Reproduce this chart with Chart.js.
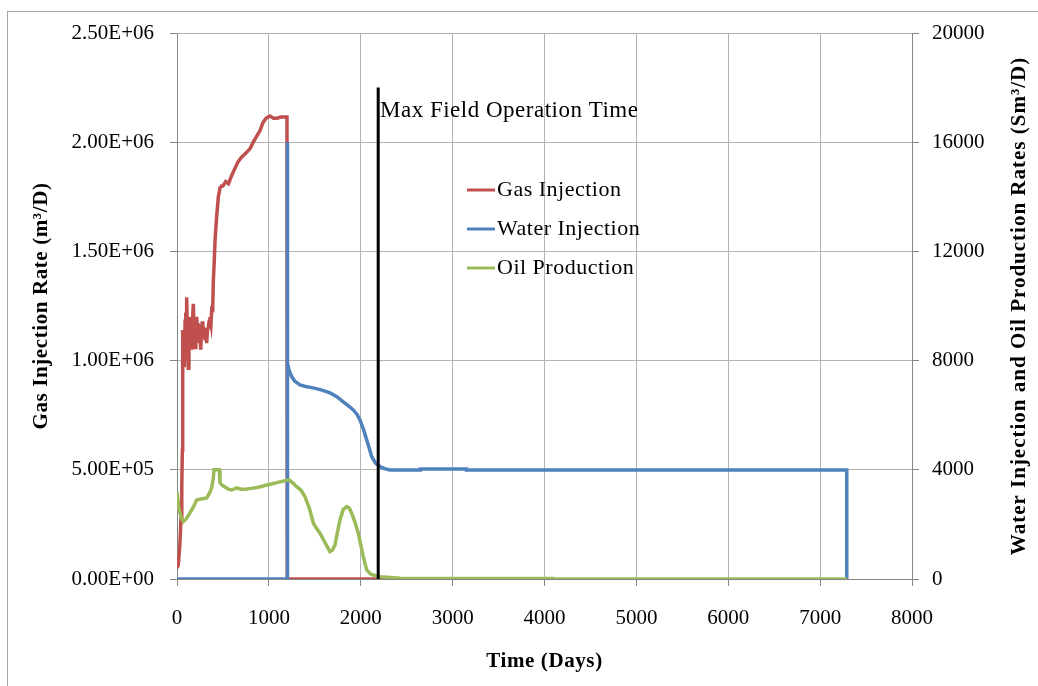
<!DOCTYPE html>
<html>
<head>
<meta charset="utf-8">
<title>Injection and Production Rates</title>
<script src="https://cdn.jsdelivr.net/npm/chart.js@4.4.0/dist/chart.umd.min.js"></script>
<style>
  html, body { margin: 0; padding: 0; background: #fff; }
</style>
</head>
<body>
<canvas id="ratesChart" width="1038" height="686"></canvas>
<script>
// Gas injection rate (m3/D), left axis
const gasDays = [0, 14, 30, 44, 52, 58, 62, 66, 70, 75, 80, 88, 95, 100, 105, 110, 115, 123, 130, 135,
    142, 149, 155, 160, 168, 178, 186, 196, 205, 215, 224, 232, 240, 245, 252, 258, 266, 275, 281, 287,
    296, 305, 314, 323, 332, 340, 350, 359, 370, 380, 388, 395, 405, 414, 430, 450, 468, 485, 500, 530,
    560, 598, 630, 664, 700, 750, 794, 830, 871, 900, 936, 970, 1012, 1050, 1088, 1130, 1197, 1200, 2330];
const gasRate = [50000, 64000, 150000, 280000, 420000, 590000, 1140000, 1020000, 980000, 1100000,
    970000, 1180000, 1220000, 1050000, 1290000, 1200000, 1100000, 965000, 1120000, 1150000,
    1080000, 1200000, 1100000, 1050000, 1180000, 1260000, 1120000, 1060000, 1150000, 1200000,
    1100000, 1170000, 1120000, 1080000, 1130000, 1050000, 1120000, 1180000, 1100000, 1155000,
    1120000, 1100000, 1150000, 1080000, 1140000, 1150000, 1180000, 1200000, 1170000, 1250000,
    1220000, 1360000, 1450000, 1550000, 1650000, 1750000, 1790000, 1800000, 1800000, 1820000,
    1810000, 1850000, 1880000, 1910000, 1930000, 1950000, 1970000, 2000000, 2030000, 2050000,
    2090000, 2110000, 2120000, 2110000, 2110000, 2115000, 2115000, 0, 0];

// Water injection rate (Sm3/D), right axis
const waterDays = [0, 1200, 1200, 1205, 1220, 1248, 1280, 1339, 1400, 1481, 1570, 1665, 1740, 1810, 1870,
    1919, 1960, 1991, 2030, 2065, 2095, 2119, 2160, 2210, 2260, 2318, 2650, 2650, 3150, 3150, 7290, 7290];
const waterRate = [0, 0, 16000, 7900, 7650, 7415, 7250, 7110, 7050, 7000, 6930, 6817, 6680, 6487, 6330,
    6194, 6030, 5827, 5480, 5094, 4760, 4482, 4250, 4116, 4040, 3995, 3995, 4030, 4030, 3995, 3995, 0];

// Oil production rate (Sm3/D), right axis
const oilDays = [0, 20, 45, 69, 100, 141, 180, 214, 260, 323, 355, 377, 395, 403, 460, 468, 495, 522, 560,
    595, 650, 700, 759, 810, 868, 920, 977, 1030, 1085, 1150, 1219, 1260, 1303, 1350, 1393, 1440, 1484,
    1520, 1556, 1600, 1640, 1665, 1690, 1720, 1745, 1774, 1810, 1847, 1875, 1901, 1940, 1974, 2000, 2028,
    2065, 2100, 2137, 2210, 2427, 4100, 4110, 7290];
const oilRate = [3200, 2600, 2250, 2100, 2200, 2420, 2650, 2895, 2930, 2970, 3150, 3335, 3700, 4000, 4000,
    3520, 3420, 3370, 3290, 3260, 3335, 3290, 3300, 3320, 3350, 3390, 3445, 3480, 3530, 3580, 3630, 3520,
    3380, 3250, 3015, 2600, 2040, 1850, 1675, 1400, 1150, 1000, 1050, 1246, 1700, 2160, 2550, 2650, 2600,
    2408, 2050, 1675, 1250, 817, 330, 200, 147, 84, 26, 20, 0, 0];

// Max field operation time marker, left axis
const maxOpDays = [2190, 2190];
const maxOpRate = [0, 2250000];

const seriesNames = ['Gas Injection', 'Water Injection', 'Oil Production'];
const seriesColors = ['#C0504D', '#4F81BD', '#9BBB59'];

const serif = "'Liberation Serif', 'Times New Roman', serif";

function toPoints(xs, ys) {
    return xs.map((x, i) => ({x: x, y: ys[i]}));
}

// 2.50E+06 style labels
function sciLabel(value) {
    if (value === 0) return '0.00E+00';
    const exp = Math.floor(Math.log10(Math.abs(value)));
    const mant = value / Math.pow(10, exp);
    const sign = exp < 0 ? '-' : '+';
    return mant.toFixed(2) + 'E' + sign + String(Math.abs(exp)).padStart(2, '0');
}

// Frame, axis titles, legend and marker caption
const decorPlugin = {
    id: 'decor',
    beforeDraw(chart) {
        const ctx = chart.ctx;
        ctx.save();
        ctx.fillStyle = '#fff';
        ctx.fillRect(0, 0, chart.width, chart.height);
        ctx.strokeStyle = '#a6a6a6';
        ctx.lineWidth = 1;
        ctx.strokeRect(7.5, 11.5, 1100, 800);
        ctx.restore();
    },
    afterDraw(chart) {
        const ctx = chart.ctx;
        const area = chart.chartArea;
        const midY = (area.top + area.bottom) / 2;
        ctx.save();
        ctx.fillStyle = '#000';
        ctx.font = 'bold 21px ' + serif;
        ctx.letterSpacing = '0.6px';
        ctx.textAlign = 'center';
        ctx.textBaseline = 'alphabetic';

        ctx.fillText('Time (Days)', (area.left + area.right) / 2, 667);

        ctx.save();
        ctx.translate(47, midY);
        ctx.rotate(-Math.PI / 2);
        ctx.fillText('Gas Injection Rate (m\u00B3/D)', 0, 0);
        ctx.restore();

        ctx.save();
        ctx.letterSpacing = '1px';
        ctx.translate(1025, midY);
        ctx.rotate(-Math.PI / 2);
        ctx.fillText('Water Injection and Oil Production Rates (Sm\u00B3/D)', 0, 0);
        ctx.restore();

        // legend
        ctx.font = '22px ' + serif;
        ctx.letterSpacing = '0.5px';
        ctx.textAlign = 'left';
        ctx.textBaseline = 'middle';
        const legendY = [190, 229, 268];
        seriesNames.forEach((name, i) => {
            ctx.strokeStyle = seriesColors[i];
            ctx.lineWidth = 3;
            ctx.beginPath();
            ctx.moveTo(467, legendY[i]);
            ctx.lineTo(495, legendY[i]);
            ctx.stroke();
            ctx.fillText(name, 497, legendY[i]);
        });

        // caption next to the marker line
        ctx.font = '23px ' + serif;
        ctx.textBaseline = 'alphabetic';
        ctx.fillText('Max Field Operation Time', 380, 117);
        ctx.restore();
    }
};

function fixWidth(w) {
    return scale => { scale.width = w; };
}

const lineStyle = {
    pointRadius: 0,
    borderWidth: 3.5,
    tension: 0,
    fill: false
};

const tickFont = { family: serif, size: 21 };

new Chart(document.getElementById('ratesChart'), {
    type: 'line',
    data: {
        datasets: [
            Object.assign({
                label: seriesNames[0],
                data: toPoints(gasDays, gasRate),
                borderColor: seriesColors[0],
                yAxisID: 'yGas',
                order: 4
            }, lineStyle),
            Object.assign({
                label: seriesNames[1],
                data: toPoints(waterDays, waterRate),
                borderColor: seriesColors[1],
                yAxisID: 'yRate',
                order: 3
            }, lineStyle),
            Object.assign({
                label: seriesNames[2],
                data: toPoints(oilDays, oilRate),
                borderColor: seriesColors[2],
                yAxisID: 'yRate',
                order: 2
            }, lineStyle),
            Object.assign({}, lineStyle, {
                label: 'Max Field Operation Time',
                data: toPoints(maxOpDays, maxOpRate),
                borderColor: '#000',
                borderWidth: 3,
                yAxisID: 'yGas',
                order: 1
            })
        ]
    },
    options: {
        responsive: false,
        animation: false,
        layout: { padding: { top: 33, left: 0, right: 0, bottom: 0 } },
        plugins: {
            legend: { display: false },
            tooltip: { enabled: false }
        },
        scales: {
            x: {
                type: 'linear',
                min: 0,
                max: 8000,
                afterFit: scale => { scale.height = 107; },
                ticks: {
                    stepSize: 1000,
                    padding: 20,
                    color: '#000',
                    font: tickFont,
                    maxRotation: 0,
                    callback: value => String(value)
                },
                grid: { color: '#b3b3b3', tickColor: '#868686', tickLength: 7, lineWidth: 1 },
                border: { color: '#868686', width: 1 }
            },
            yGas: {
                position: 'left',
                min: 0,
                max: 2500000,
                afterFit: fixWidth(177),
                ticks: {
                    stepSize: 500000,
                    padding: 16,
                    color: '#000',
                    font: tickFont,
                    callback: value => sciLabel(value)
                },
                grid: { color: '#b3b3b3', tickColor: '#868686', tickLength: 7, lineWidth: 1 },
                border: { color: '#868686', width: 1 }
            },
            yRate: {
                position: 'right',
                min: 0,
                max: 20000,
                afterFit: fixWidth(126),
                ticks: {
                    stepSize: 4000,
                    padding: 13,
                    color: '#000',
                    font: tickFont,
                    callback: value => String(value)
                },
                grid: { drawOnChartArea: false, tickColor: '#868686', tickLength: 7 },
                border: { color: '#868686', width: 1 }
            }
        }
    },
    plugins: [decorPlugin]
});
</script>
</body>
</html>
